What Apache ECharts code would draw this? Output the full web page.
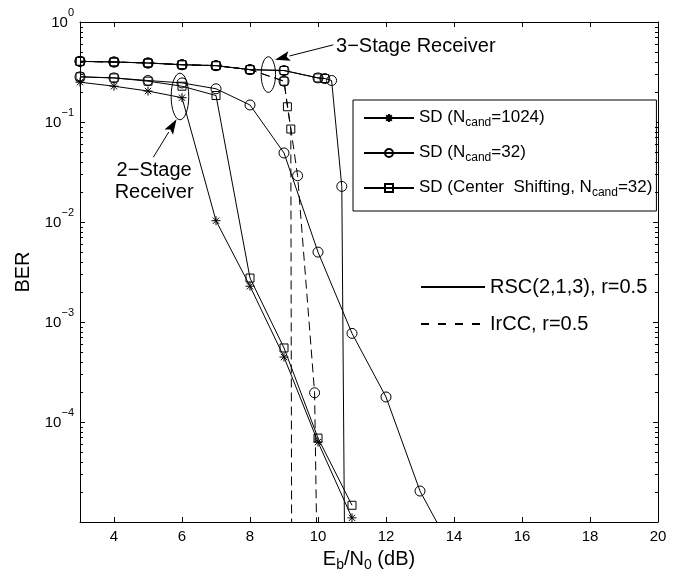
<!DOCTYPE html>
<html>
<head>
<meta charset="utf-8">
<script src="https://cdn.jsdelivr.net/npm/echarts@6/dist/echarts.min.js"></script>
<style>
  html, body { margin: 0; background: #fff; }
  #container { width: 679px; height: 577px; }
</style>
</head>
<body>
<div id="container"></div>
<script>
// ---- data: Eb/N0 (dB) and BER ----
// 2-stage receiver, RSC(2,1,3)
var xSD1024 = [3, 4, 5, 6, 7, 8, 9, 10, 11];
var berSD1024 = [0.25, 0.228, 0.204, 0.175, 0.0103, 0.00228, 0.000446, 6.3e-5, 1.1e-5];

var xSD32 = [3, 4, 5, 6, 7, 8, 9, 10, 11, 12, 13, 14];
var berSD32 = [0.283, 0.276, 0.26, 0.246, 0.215, 0.148, 0.049, 0.005, 7.7e-4, 1.78e-4, 2.04e-5, 4.8e-6];

var xCS32 = [3, 4, 5, 6, 7, 8, 9, 10, 11];
var berCS32 = [0.283, 0.276, 0.256, 0.228, 0.184, 0.00275, 5.5e-4, 6.9e-5, 1.47e-5];

// 3-stage receiver, RSC(2,1,3)
var xSD32s3 = [3, 4, 5, 6, 7, 8, 9, 10, 10.2, 10.4, 10.7, 10.8];
var berSD32s3 = [0.404, 0.398, 0.389, 0.374, 0.366, 0.334, 0.327, 0.276, 0.272, 0.26, 0.0227, 1e-6];

var xCS32s3 = [3, 4, 5, 6, 7, 8, 9, 10, 10.2];
var berCS32s3 = [0.404, 0.398, 0.389, 0.374, 0.366, 0.334, 0.327, 0.276, 0.272];

// 3-stage receiver, IrCC
var xSD32ir = [3, 4, 5, 6, 7, 8, 9, 9.4, 9.9, 10];
var berSD32ir = [0.404, 0.398, 0.389, 0.374, 0.366, 0.334, 0.256, 0.029, 1.96e-4, 1e-6];

var xCS32ir = [3, 4, 5, 6, 7, 8, 9, 9.1, 9.2, 9.23];
var berCS32ir = [0.404, 0.398, 0.389, 0.374, 0.366, 0.334, 0.256, 0.142, 0.085, 1e-6];

// axis ticks
var xTicks = [4, 6, 8, 10, 12, 14, 16, 18, 20];
var minorDecades = [1e-5, 1e-4, 1e-3, 1e-2, 1e-1];
var minorSteps = [2, 3, 4, 5, 6, 7, 8, 9];

var NAME_1024 = 'SD (Ncand=1024)';
var NAME_32 = 'SD (Ncand=32)';
var NAME_CS = 'SD (Center  Shifting, Ncand=32)';
var NAME_RSC = 'RSC(2,1,3), r=0.5';
var NAME_IRCC = 'IrCC, r=0.5';

var FONT = 'Liberation Sans';
var STAR = 'path://M0,-5L0,5M-5,0L5,0M-3.5,-3.5L3.5,3.5M-3.5,3.5L3.5,-3.5';
var DASH = [9, 5];

var chart = echarts.init(document.getElementById('container'));

function zip(xs, ys) {
    return xs.map(function (x, i) { return [x, ys[i]]; });
}

function curve(name, symbol, size, xs, ys, dashed) {
    return {
        type: 'line',
        name: name,
        data: zip(xs, ys),
        symbol: symbol,
        symbolSize: size,
        showAllSymbol: true,
        animation: false,
        silent: true,
        lineStyle: { color: '#000', width: 1, type: dashed ? DASH : 'solid' },
        itemStyle: { color: 'rgba(0,0,0,0)', borderColor: '#000', borderWidth: 1 },
        z: 3
    };
}

var minorTicks = [];
minorDecades.forEach(function (d) {
    minorSteps.forEach(function (m) {
        minorTicks.push([3, +(m * d).toPrecision(3)]);
    });
});

function renderMinor(params, api) {
    var v = api.value(1);
    var l = api.coord([3, v]);
    var r = api.coord([20, v]);
    var y = Math.round(l[1]) + 0.5;
    return {
        type: 'group',
        children: [
            { type: 'line', shape: { x1: l[0], y1: y, x2: l[0] + 3, y2: y }, style: { stroke: '#000', lineWidth: 1 } },
            { type: 'line', shape: { x1: r[0] - 3, y1: y, x2: r[0], y2: y }, style: { stroke: '#000', lineWidth: 1 } }
        ]
    };
}

// "SD (Ncand=32)" -> "{a|SD (N}{s|cand}{a|=32)}"
function legendText(name) {
    return '{a|' + name.replace('Ncand', 'N}{s|cand}{a|') + '}';
}

var axisLineStyle = { color: '#000', width: 1 };

var option = {
    backgroundColor: '#fff',
    animation: false,
    grid: { left: 80, right: 21, top: 22, bottom: 51, show: false },
    legend: [{
        data: [NAME_1024, NAME_32, NAME_CS],
        orient: 'vertical',
        left: 353,
        top: 100,
        padding: [9, 4, 12, 10],
        itemWidth: 50,
        itemHeight: 10,
        itemGap: 15,
        selectedMode: false,
        backgroundColor: '#fff',
        borderColor: '#000',
        borderWidth: 1,
        borderRadius: 0,
        formatter: legendText,
        textStyle: {
            rich: {
                a: { fontSize: 17, fontFamily: FONT, color: '#000', lineHeight: 18, verticalAlign: 'top' },
                s: { fontSize: 12, fontFamily: FONT, color: '#000', lineHeight: 12, verticalAlign: 'top', padding: [8, 0, 0, 0] }
            }
        }
    }, {
        data: [NAME_RSC, { name: NAME_IRCC, lineStyle: { type: [8, 9] } }],
        orient: 'vertical',
        left: 420,
        top: 277,
        padding: 0,
        itemWidth: 64,
        itemHeight: 14,
        itemGap: 17,
        selectedMode: false,
        itemStyle: { color: 'rgba(0,0,0,0)', borderWidth: 0, opacity: 0 },
        textStyle: { fontSize: 20, fontFamily: FONT, color: '#000' }
    }],
    xAxis: [{
        type: 'value', min: 3, max: 20, position: 'bottom',
        axisLine: { show: true, lineStyle: axisLineStyle },
        axisTick: { show: true, inside: true, length: 5, customValues: xTicks, lineStyle: axisLineStyle },
        axisLabel: { customValues: xTicks, color: '#000', fontSize: 15, fontFamily: FONT, margin: 7 },
        splitLine: { show: false },
        name: '{a|E}{s|b}{a|/N}{s|0}{a| (dB)}',
        nameLocation: 'middle',
        nameGap: 27,
        nameTextStyle: {
            rich: {
                a: { fontSize: 20, fontFamily: FONT, color: '#000', lineHeight: 20, verticalAlign: 'top' },
                s: { fontSize: 14, fontFamily: FONT, color: '#000', lineHeight: 14, verticalAlign: 'top', padding: [9, 0, 0, 0] }
            }
        }
    }, {
        type: 'value', min: 3, max: 20, position: 'top',
        axisLine: { show: true, lineStyle: axisLineStyle },
        axisTick: { show: true, inside: true, length: 5, customValues: xTicks, lineStyle: axisLineStyle },
        axisLabel: { show: false },
        splitLine: { show: false }
    }],
    yAxis: [{
        type: 'log', logBase: 10, min: 1e-5, max: 1, position: 'left',
        axisLine: { show: true, lineStyle: axisLineStyle },
        axisTick: { show: true, inside: true, length: 5, lineStyle: axisLineStyle },
        splitLine: { show: false },
        axisLabel: {
            margin: 6,
            padding: [0, 0, 6, 0],
            formatter: function (value) {
                var e = Math.round(Math.log10(value));
                if (e === -5) return '';
                return '{a|10}{p|' + (e < 0 ? '\u2212' + (-e) : e) + '}';
            },
            rich: {
                a: { fontSize: 15, fontFamily: FONT, color: '#000', verticalAlign: 'bottom', padding: [8, 0, 0, 0] },
                p: { fontSize: 11, fontFamily: FONT, color: '#000', verticalAlign: 'top' }
            }
        },
        name: 'BER',
        nameLocation: 'middle',
        nameGap: 42,
        nameTextStyle: { fontSize: 20, fontFamily: FONT, color: '#000' }
    }, {
        type: 'log', logBase: 10, min: 1e-5, max: 1, position: 'right',
        axisLine: { show: true, lineStyle: axisLineStyle },
        axisTick: { show: true, inside: true, length: 5, lineStyle: axisLineStyle },
        axisLabel: { show: false },
        splitLine: { show: false }
    }],
    series: [
        curve(NAME_1024, STAR, 9, xSD1024, berSD1024, false),
        curve(NAME_32, 'circle', 10, xSD32, berSD32, false),
        curve(NAME_CS, 'rect', 8, xCS32, berCS32, false),
        curve(NAME_32, 'circle', 10, xSD32s3, berSD32s3, false),
        curve(NAME_CS, 'rect', 8, xCS32s3, berCS32s3, false),
        curve(NAME_32, 'circle', 10, xSD32ir, berSD32ir, true),
        curve(NAME_CS, 'rect', 8, xCS32ir, berCS32ir, true),
        { type: 'line', name: NAME_RSC, data: [], symbol: 'none', lineStyle: { color: '#000', width: 1 }, itemStyle: { color: '#000' } },
        { type: 'line', name: NAME_IRCC, data: [], symbol: 'none', lineStyle: { color: '#000', width: 1, type: DASH }, itemStyle: { color: '#000' } },
        {
            type: 'custom', silent: true, animation: false, clip: false,
            data: minorTicks,
            renderItem: renderMinor,
            z: 4
        }
    ]
};

chart.setOption(option);

// ---- annotations, anchored in data coordinates ----
var ann2 = { ellipse: [5.94, 0.18], rx: 8.8, ry: 23.3, tip: [5.84, 0.1066], tail: [5.156, 0.0444], text: [5.18, 0.0256] };
var ann3 = { ellipse: [8.54, 0.298], rx: 7.2, ry: 17.8, tip: [8.735, 0.42], tail: [10.45, 0.591], text: [10.53, 0.569] };

function px(p) {
    return chart.convertToPixel({ xAxisIndex: 0, yAxisIndex: 0 }, p);
}

function arrow(tail, tip) {
    var a = px(tail), b = px(tip);
    var dx = b[0] - a[0], dy = b[1] - a[1];
    var len = Math.sqrt(dx * dx + dy * dy);
    var ux = dx / len, uy = dy / len;
    var hl = 15, hw = 5;
    var bx = b[0] - ux * hl, by = b[1] - uy * hl;
    return [
        { type: 'line', shape: { x1: a[0], y1: a[1], x2: bx, y2: by }, style: { stroke: '#000', lineWidth: 1 }, z: 10 },
        { type: 'polygon', shape: { points: [[b[0], b[1]], [bx - uy * hw, by + ux * hw], [bx + ux * 3, by + uy * 3], [bx + uy * hw, by - ux * hw]] }, style: { fill: '#000' }, z: 10 }
    ];
}

function ellipse(a) {
    var c = px(a.ellipse);
    return { type: 'ellipse', shape: { cx: c[0], cy: c[1], rx: a.rx, ry: a.ry }, style: { fill: 'none', stroke: '#000', lineWidth: 1 }, z: 10 };
}

var t2 = px(ann2.text), t3 = px(ann3.text);
var graphics = [ellipse(ann2), ellipse(ann3)]
    .concat(arrow(ann2.tail, ann2.tip))
    .concat(arrow(ann3.tail, ann3.tip))
    .concat([
        { type: 'text', x: t2[0], y: t2[1], z: 10,
          style: { text: '2\u2212Stage\nReceiver', fontSize: 20, fontFamily: FONT, fill: '#000', align: 'center', verticalAlign: 'middle', lineHeight: 22 } },
        { type: 'text', x: t3[0], y: t3[1], z: 10,
          style: { text: '3\u2212Stage Receiver', fontSize: 20, fontFamily: FONT, fill: '#000', align: 'left', verticalAlign: 'middle' } }
    ]);

chart.setOption({ graphic: graphics });
</script>
</body>
</html>
